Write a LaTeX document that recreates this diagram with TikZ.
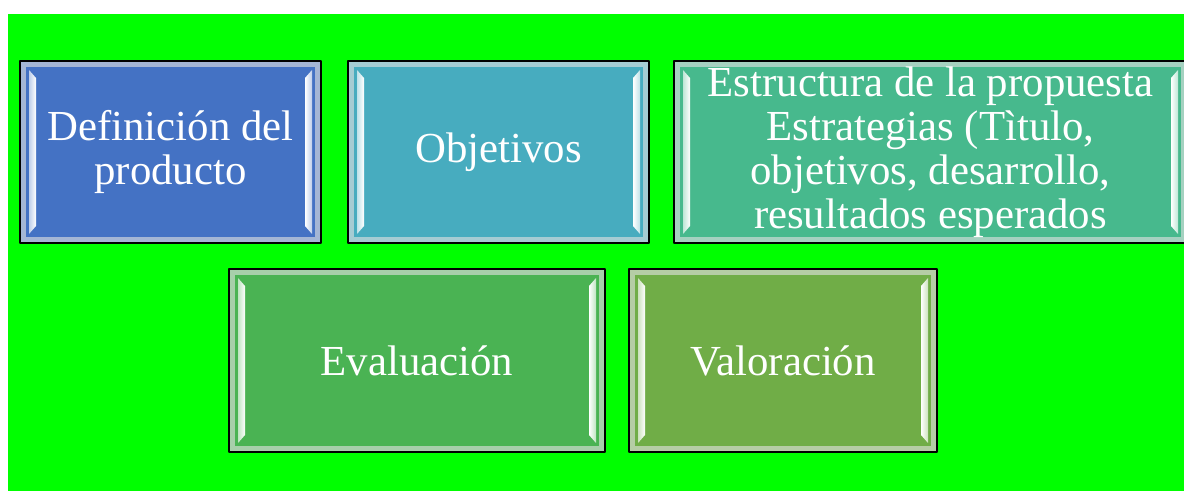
\documentclass[tikz,border=0pt]{standalone}
\usepackage{fontspec}
\setmainfont{Liberation Serif}
\usetikzlibrary{calc}
\definecolor{scrgreen}{HTML}{00FF00}
\definecolor{cblue}{HTML}{4472C4}
\definecolor{cteal}{HTML}{47ACBF}
\definecolor{cjade}{HTML}{47B98D}
\definecolor{cgreen}{HTML}{4AB353}
\definecolor{colive}{HTML}{70AD47}
\newcommand{\panelfont}{\fontsize{21.4}{22}\selectfont}
\tikzset{
  panel/.style={draw=black, line width=1pt, fill=#1, text=white, font=\panelfont,
    align=center, inner sep=0pt, outer sep=0pt, minimum height=91pt,
    path picture={
      \draw[#1!45!white!85!gray, line width=3pt]
        ([shift={(1.5pt,-1.5pt)}]path picture bounding box.north west) rectangle
        ([shift={(-1.5pt,1.5pt)}]path picture bounding box.south east);
      \shade[left color=#1!35!white, right color=white]
        ([shift={(4.5pt,-4.5pt)}]path picture bounding box.north west) --
        ([shift={(8pt,-8.5pt)}]path picture bounding box.north west) --
        ([shift={(8pt,8.5pt)}]path picture bounding box.south west) --
        ([shift={(4.5pt,4.5pt)}]path picture bounding box.south west) -- cycle;
      \shade[left color=white, right color=#1!35!white]
        ([shift={(-4.5pt,-4.5pt)}]path picture bounding box.north east) --
        ([shift={(-8pt,-8.5pt)}]path picture bounding box.north east) --
        ([shift={(-8pt,8.5pt)}]path picture bounding box.south east) --
        ([shift={(-4.5pt,4.5pt)}]path picture bounding box.south east) -- cycle;
    }}
}
\begin{document}
\begin{tikzpicture}[x=0.5pt, y=-0.5pt, line join=round]
  \clip (0,0) rectangle (1184,491);
  \fill[white] (0,0) rectangle (1184,491);
  \fill[scrgreen] (8,14) rectangle (1184,491);
  \node[panel=cblue, minimum width=150.5pt] (defin) at (170.5,152) {Definición del\\producto};
  \node[panel=cteal, minimum width=150.5pt] (objet) at (498.5,152) {Objetivos};
  \node[panel=cjade, minimum width=256.5pt] (estru) at (930.5,152)
    {Estructura de la propuesta\\Estrategias (Tìtulo,\\objetivos, desarrollo,\\resultados esperados};
  \node[panel=cgreen, minimum width=188pt, minimum height=91.5pt] (evalu) at (417,360.5) {Evaluación};
  \node[panel=colive, minimum width=154pt, minimum height=91.5pt] (valor) at (783,360.5) {Valoración};
\end{tikzpicture}
\end{document}
